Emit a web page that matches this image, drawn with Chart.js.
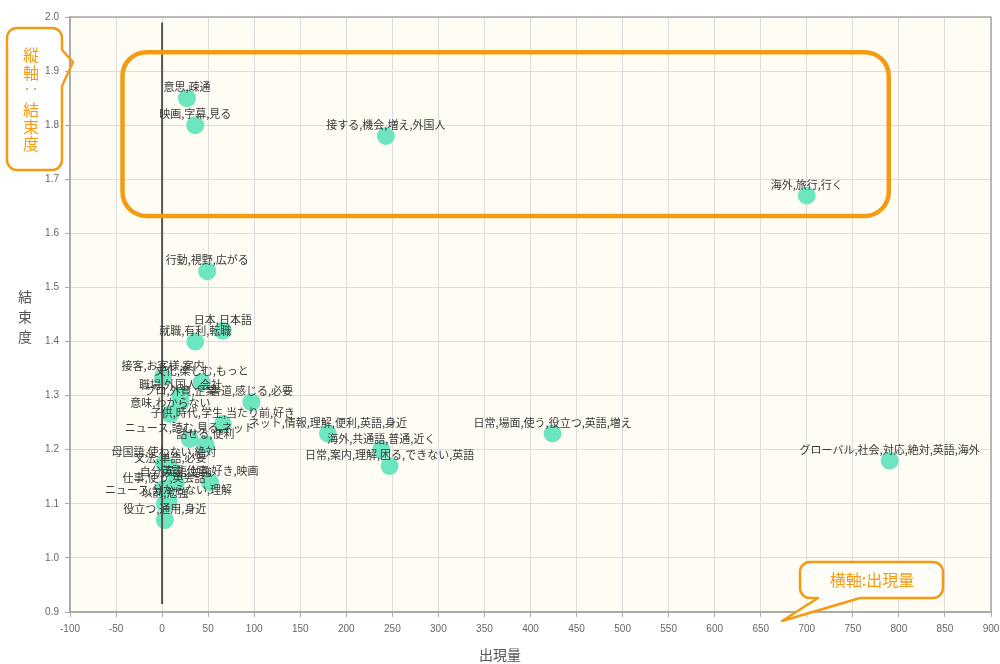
<!DOCTYPE html>
<html><head><meta charset="utf-8">
<script src="https://cdn.jsdelivr.net/npm/chart.js@4.4.0/dist/chart.umd.min.js"></script>
<style>html,body{margin:0;padding:0;background:#fff;}</style>
</head><body>
<canvas id="c" width="1000" height="664"></canvas>
<script>
// ---- data ----
const labels = [
  '意思,疎通', '映画,字幕,見る', '接する,機会,増え,外国人', '海外,旅行,行く',
  '行動,視野,広がる', '日本,日本語', '就職,有利,転職', '接客,お客様,案内',
  '文化,楽しむ,もっと', '職場,外国人,会社', 'プロ,外資,企業', '書道,感じる,必要',
  '意味,わからない', '子供,時代,学生,当たり前,好き', 'ニュース,読む,見る,ネット',
  'ネット,情報,理解,便利,英語,身近', '話せる,便利', '海外,共通語,普通,近く',
  '日常,場面,使う,役立つ,英語,増え', '日常,案内,理解,困る,できない,英語',
  'グローバル,社会,対応,絶対,英語,海外', '母国語,使わない,絶対', '文法,単語,必要',
  '英語,仕事,好き,映画', '自分,英語,勉強', '仕事,使う,英会話',
  'ニュース,分からない,理解', '以前,勉強', '役立つ,通用,身近'
];
const xValues = [27, 36, 243, 700, 49, 66, 36, 1, 43, 20, 20, 97, 9, 66, 30, 180, 47, 238, 424, 247, 790, 2, 9, 52, 15, 2, 7, 3, 3];
const yValues = [1.85, 1.80, 1.78, 1.67, 1.53, 1.42, 1.40, 1.335, 1.325, 1.30, 1.288, 1.288, 1.266, 1.248, 1.22, 1.23, 1.21, 1.20, 1.23, 1.17, 1.18, 1.175, 1.165, 1.14, 1.139, 1.128, 1.105, 1.10, 1.07];
const zeroLineX = [0, 0];
const zeroLineY = [0.915, 1.99];
const xAxisRange = [-100, 900, 50];
const yAxisRange = [0.9, 2.0, 0.1];
const xTitle = '出現量';
const yTitle = ['結', '束', '度'];
const highlightBox = { xMin: -43, xMax: 789, yMin: 1.632, yMax: 1.935 };

const ORANGE = '#f49b14';

function roundRectPath(ctx, x0, y0, x1, y1, r) {
  ctx.beginPath();
  ctx.moveTo(x0 + r, y0);
  ctx.lineTo(x1 - r, y0);
  ctx.arcTo(x1, y0, x1, y0 + r, r);
  ctx.lineTo(x1, y1 - r);
  ctx.arcTo(x1, y1, x1 - r, y1, r);
  ctx.lineTo(x0 + r, y1);
  ctx.arcTo(x0, y1, x0, y1 - r, r);
  ctx.lineTo(x0, y0 + r);
  ctx.arcTo(x0, y0, x0 + r, y0, r);
  ctx.closePath();
}

const bgPlugin = {
  id: 'bg',
  beforeDraw(chart) {
    const a = chart.chartArea, ctx = chart.ctx;
    ctx.save();
    ctx.fillStyle = '#fffcf3';
    ctx.fillRect(a.left, a.top, a.right - a.left, a.bottom - a.top);
    ctx.restore();
  },
  beforeDatasetsDraw(chart) {
    const a = chart.chartArea, ctx = chart.ctx;
    ctx.save();
    ctx.strokeStyle = '#a8a8a8';
    ctx.lineWidth = 1.5;
    ctx.strokeRect(a.left, a.top, a.right - a.left, a.bottom - a.top);
    ctx.restore();
  }
};

const pointLabels = {
  id: 'pointLabels',
  afterDatasetsDraw(chart) {
    const meta = chart.getDatasetMeta(1);
    const ctx = chart.ctx;
    ctx.save();
    ctx.font = '11px "Noto Sans CJK JP"';
    ctx.fillStyle = '#383838';
    ctx.textAlign = 'center';
    ctx.textBaseline = 'middle';
    meta.data.forEach((el, i) => ctx.fillText(labels[i], el.x, el.y - 11));
    ctx.restore();
  }
};

const annotations = {
  id: 'annotations',
  afterDraw(chart) {
    const ctx = chart.ctx, xs = chart.scales.x, ys = chart.scales.y;
    ctx.save();
    // axis titles
    ctx.font = '14px "Noto Sans CJK JP"';
    ctx.fillStyle = '#555';
    ctx.textAlign = 'center';
    ctx.textBaseline = 'middle';
    yTitle.forEach((ch, i) => ctx.fillText(ch, 25, 297 + i * 20));
    ctx.fillText(xTitle, chart.width / 2, 655);

    // highlight box
    const bx0 = xs.getPixelForValue(highlightBox.xMin), bx1 = xs.getPixelForValue(highlightBox.xMax);
    const by0 = ys.getPixelForValue(highlightBox.yMax), by1 = ys.getPixelForValue(highlightBox.yMin);
    ctx.strokeStyle = ORANGE;
    ctx.lineWidth = 4.5;
    roundRectPath(ctx, bx0, by0, bx1, by1, 24);
    ctx.stroke();

    // left callout (outline only)
    ctx.lineWidth = 2.5;
    ctx.lineJoin = 'round';
    ctx.beginPath();
    const L = 7, R = 62, T = 28, B = 170, r = 10;
    ctx.moveTo(L + r, T);
    ctx.lineTo(R - r, T);
    ctx.arcTo(R, T, R, T + r, r);
    ctx.lineTo(R, 50);
    ctx.lineTo(73, 62);
    ctx.lineTo(R, 86);
    ctx.lineTo(R, B - r);
    ctx.arcTo(R, B, R - r, B, r);
    ctx.lineTo(L + r, B);
    ctx.arcTo(L, B, L, B - r, r);
    ctx.lineTo(L, T + r);
    ctx.arcTo(L, T, L + r, T, r);
    ctx.closePath();
    ctx.stroke();
    ctx.fillStyle = ORANGE;
    ctx.font = '16px "Noto Sans CJK JP"';
    const vchars = ['縦', '軸', '‥', '結', '束', '度'];
    const vy = [55, 73, 89, 110, 127, 144];
    vchars.forEach((ch, i) => ctx.fillText(ch, 31, vy[i]));

    // bottom-right callout
    const L2 = 800, R2 = 943, T2 = 562, B2 = 598;
    ctx.beginPath();
    ctx.moveTo(L2 + r, T2);
    ctx.lineTo(R2 - r, T2);
    ctx.arcTo(R2, T2, R2, T2 + r, r);
    ctx.lineTo(R2, B2 - r);
    ctx.arcTo(R2, B2, R2 - r, B2, r);
    ctx.lineTo(860, B2);
    ctx.lineTo(782, 621);
    ctx.lineTo(818, B2);
    ctx.lineTo(L2 + r, B2);
    ctx.arcTo(L2, B2, L2, B2 - r, r);
    ctx.lineTo(L2, T2 + r);
    ctx.arcTo(L2, T2, L2 + r, T2, r);
    ctx.closePath();
    ctx.fillStyle = '#fffdf8';
    ctx.fill();
    ctx.stroke();
    ctx.fillStyle = ORANGE;
    ctx.font = '16px "Noto Sans CJK JP"';
    ctx.fillText('横軸:出現量', 872, 580);
    ctx.restore();
  }
};

const scatterData = xValues.map((x, i) => ({ x, y: yValues[i] }));
const zeroData = zeroLineX.map((x, i) => ({ x, y: zeroLineY[i] }));

const tickFont = { family: '"Liberation Sans Narrow", "Liberation Sans", sans-serif', size: 10 };

new Chart(document.getElementById('c'), {
  type: 'scatter',
  data: {
    datasets: [
      {
        type: 'line', data: zeroData, borderColor: '#555', borderWidth: 2,
        pointRadius: 0, pointHoverRadius: 0, order: 0, fill: false
      },
      {
        data: scatterData, backgroundColor: '#6de6bf', borderWidth: 0,
        pointRadius: 9, pointHoverRadius: 9, order: 1
      }
    ]
  },
  options: {
    responsive: false,
    animation: false,
    devicePixelRatio: 1,
    layout: { padding: { left: 0, right: 6, top: 17, bottom: 0 } },
    plugins: { legend: { display: false }, tooltip: { enabled: false } },
    scales: {
      x: {
        type: 'linear', min: xAxisRange[0], max: xAxisRange[1],
        ticks: { stepSize: xAxisRange[2], font: tickFont, color: '#666', padding: 6, maxRotation: 0, autoSkip: false },
        grid: { color: '#dcdcdc', tickLength: 5, tickColor: '#aaa' },
        border: { color: '#a8a8a8', width: 1.5 },
        title: { display: false },
        afterFit(s) { s.height = 52; s.paddingRight = 0; s.paddingLeft = 0; }
      },
      y: {
        type: 'linear', min: yAxisRange[0], max: yAxisRange[1],
        ticks: { stepSize: yAxisRange[2], font: tickFont, color: '#666', padding: 6, callback: v => Number(v).toFixed(1) },
        grid: { color: '#dcdcdc', tickLength: 5, tickColor: '#aaa' },
        border: { color: '#a8a8a8', width: 1.5 },
        afterFit(s) { s.width = 70; s.paddingTop = 0; s.paddingBottom = 0; }
      }
    }
  },
  plugins: [bgPlugin, pointLabels, annotations]
});
</script>
</body></html>
